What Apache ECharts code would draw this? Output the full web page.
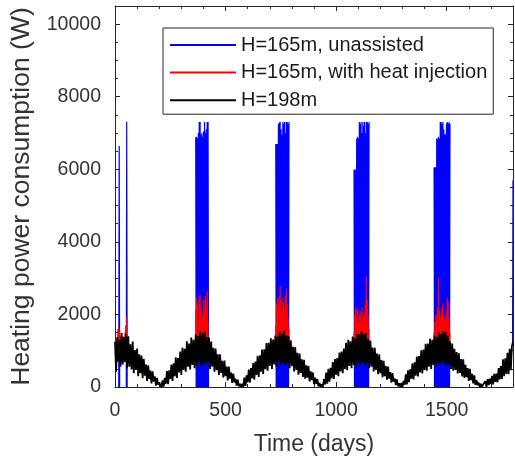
<!DOCTYPE html>
<html>
<head>
<meta charset="utf-8">
<script src="https://cdn.jsdelivr.net/npm/echarts@6/dist/echarts.min.js"></script>
<style>
html,body{margin:0;padding:0;background:#fff;}
#chart{width:515px;height:462px;}
</style>
</head>
<body>
<div id="chart"></div>
<script>
// ---------- DATA ----------
const xTicksMajor = [0, 500, 1000, 1500];
const yTicksMajor = [0, 2000, 4000, 6000, 8000, 10000];
const seriesNames = ['H=165m, unassisted', 'H=165m, with heat injection', 'H=198m'];

// H=198m : sampled every 5 days from day 0 to day 1800
const blackStartDay = 0;
const blackStepDays = 5;
const blackW = [
1250,420,1380,700,1300,560,1490,620,1380,680,1450,520,1400,560,1180,480,1250,380,1020,470,1060,300,900,380,870,240,780,310,620,170,600,220,450,100,430,150,290,40,250,60,130,
60,0,180,10,250,90,440,80,460,220,620,170,650,300,820,250,800,400,980,330,1080,470,1050,420,1260,560,1200,480,1360,610,1300,520,1450,580,1400,700,1530,560,1480,640,1520,590,1380,680,1360,500,1250,560,1080,420,1060,460,900,330,900,390,720,260,730,300,560,180,560,230,400,110,370,130,230,40,200,20,90,0,
90,0,260,30,320,130,480,120,520,240,660,200,700,330,860,280,870,420,1030,360,1040,490,1210,450,1220,580,1340,500,1310,620,1420,550,1390,680,1520,600,1470,660,1540,590,1420,650,1400,520,1290,570,1110,430,1100,470,940,340,920,390,760,280,750,230,600,260,580,150,430,190,400,80,260,90,220,20,110,0,70,
0,220,70,400,90,500,150,530,240,690,220,770,340,800,300,950,430,980,380,1060,500,1220,460,1300,580,1260,520,1390,610,1350,540,1460,680,1450,600,1540,690,1470,580,1490,650,1320,520,1280,560,1090,430,1080,470,920,350,900,380,740,270,720,300,580,200,560,230,410,120,380,150,240,50,210,20,100,
0,110,0,170,60,350,70,460,130,490,230,650,210,680,310,840,290,850,400,1010,370,1030,470,1190,450,1200,560,1330,500,1300,610,1410,560,1380,660,1500,600,1460,690,1540,620,1510,580,1420,620,1260,500,1200,450,1050,470,960,370,930,390,770,290,760,250,610,270,520,170,500,190,360,100,320,60,190,50,120,0,90,
0,70,20,160,0,220,50,230,80,310,70,360,140,370,130,520,210,580,220,760,300,790,360,940,350,1050,460,1120,1250
];

// H=165m unassisted : heating-season bursts, sampled every 2 days
const blueStepDays = 2;
const blueStarts = [17, 51, 365, 727, 1081, 1443, 1798];
const blueS1a = [0, 6640, 0];
const blueS1b = [0, 7310, 0];
const blueS2 = [6880,0,6900,0,6850,0,7000,0,7300,0,7300,0,6950,0,7000,0,6900,0,7050,0,7300,0,7000,0,7100,0,7300,0,7300,0];
const blueS3 = [6700,0,6700,0,6700,0,7250,0,7290,0,7300,0,7100,0,6950,0,7300,0,7250,0,7300,0,7000,0,7300,0,7300,0,7250,0,7300];
const blueS4 = [5980,0,6000,0,5980,0,6850,0,6900,0,6850,0,7300,0,7250,0,7300,0,7000,0,7300,0,7200,0,7300,0,7000,0,7300,0,7300,0,7250,0,7300];
const blueS5 = [6050,0,6060,0,6050,0,6850,0,6840,0,6900,0,6850,0,7300,0,7300,0,7250,0,7300,0,7100,0,6970,0,6950,0,7260,0,7300,0,7260,0,7300,0,7250];
const blueS6 = [1200, 5700];
const blueSeasons = [blueS1a, blueS1b, blueS2, blueS3, blueS4, blueS5, blueS6];

// H=165m with heat injection : heating-season bursts, sampled every 2 days
const redStepDays = 2;
const redStarts = [9, 365, 727, 1081, 1443];
const redS1 = [1300,700,1600,900,1650,800,1550,900,1400,800,1300,700,1350,800,1400,700,1300,800,1500,900,1700,1000,1950,900,1400];
const redS2 = [2100,900,2450,1000,2300,800,1800,1100,2500,900,2550,1000,2200,1200,2000,900,1900,1000,2400,800,2100,1100,2500,900,2200,1000,2650,900,1800];
const redS3 = [1700,900,2300,1000,2450,1100,2200,900,2500,1200,2780,1000,2400,1100,2000,900,2450,1200,2300,1000,2100,1100,2500,900,2700,1000,2300,1100,1900,800,1600];
const redS4 = [1500,800,2000,1000,2200,900,1900,1100,2150,1000,1800,1200,2000,900,2100,1100,1900,1000,2200,1200,1800,900,2050,1100,1900,1000,2300,1200,3050,1000,2400,1100,2000,900,1600];
const redS5 = [1500,800,1800,1000,2000,1100,1900,900,2200,1000,3030,1100,2100,1200,1900,1000,2000,1100,2200,900,2300,1200,2000,1000,1850,1100,1900,900,2100,1200,2450,1000,2350,1100,1900,900,1500];
const redSeasons = [redS1, redS2, redS3, redS4, redS5];

// ---------- BUILD ----------
function regular(start, step, vals) {
  return vals.map((v, i) => [start + i * step, v]);
}
function bursts(starts, step, arrays) {
  const out = [];
  arrays.forEach((arr, k) => {
    arr.forEach((v, i) => out.push([starts[k] + i * step, v]));
    out.push([starts[k] + arr.length * step, null]);
  });
  return out;
}

const FONT = 'Liberation Sans, Arial, Helvetica, sans-serif';
const AX = '#262626';
const plain = v => String(v);

const chart = echarts.init(document.getElementById('chart'), null, {renderer: 'canvas'});

function xAx(position, interval, len, showLine, showLabel, extra) {
  return Object.assign({
    type: 'value', position: position, min: 0, max: 1800, interval: interval,
    axisLine: {show: showLine, onZero: false, lineStyle: {color: AX, width: 1}},
    axisTick: {show: true, inside: true, length: len, lineStyle: {color: AX, width: 1}},
    axisLabel: {show: showLabel, showMaxLabel: false, margin: 14, fontSize: 19.5, fontFamily: FONT, color: '#333', formatter: plain},
    splitLine: {show: false}
  }, extra || {});
}
function yAx(position, interval, len, showLine, showLabel, extra) {
  return Object.assign({
    type: 'value', position: position, min: 0, max: 10500, interval: interval,
    axisLine: {show: showLine, onZero: false, lineStyle: {color: AX, width: 1}},
    axisTick: {show: true, inside: true, length: len, lineStyle: {color: AX, width: 1}},
    axisLabel: {show: showLabel, showMaxLabel: false, margin: 14, fontSize: 19.5, fontFamily: FONT, color: '#333', formatter: plain},
    splitLine: {show: false}
  }, extra || {});
}

const option = {
  animation: false,
  backgroundColor: '#fff',
  grid: {left: 115, right: 2, top: 6, bottom: 75, containLabel: false, outerBoundsMode: 'none'},
  legend: {
    orient: 'vertical', left: 163, top: 28,
    padding: [7, 6, 4, 7],
    itemGap: 7.6, itemWidth: 66, itemHeight: 2, icon: 'rect',
    borderColor: AX, borderWidth: 1, backgroundColor: '#fff',
    textStyle: {fontSize: 20, fontFamily: FONT, color: '#1a1a1a', lineHeight: 20},
    data: seriesNames
  },
  xAxis: [
    xAx('bottom', 500, 5, true, true, {
      name: 'Time (days)', nameLocation: 'middle', nameGap: 46,
      nameTextStyle: {fontSize: 23, fontFamily: FONT, color: '#333'}
    }),
    xAx('bottom', 100, 3, false, false),
    xAx('top', 500, 5, true, false),
    xAx('top', 100, 3, false, false)
  ],
  yAxis: [
    yAx('left', 2000, 5, true, true, {
      name: 'Heating power consumption (W)', nameLocation: 'middle', nameGap: 80,
      nameTextStyle: {fontSize: 26.5, fontFamily: FONT, color: '#333'}
    }),
    yAx('left', 500, 3, false, false),
    yAx('right', 2000, 5, true, false),
    yAx('right', 500, 3, false, false)
  ],
  series: [
    {
      name: seriesNames[0], type: 'line', xAxisIndex: 0, yAxisIndex: 0,
      symbol: 'none', showSymbol: false, connectNulls: false,
      lineStyle: {color: '#0000ff', width: 1.2}, itemStyle: {color: '#0000ff'},
      data: bursts(blueStarts, blueStepDays, blueSeasons)
    },
    {
      name: seriesNames[1], type: 'line', xAxisIndex: 0, yAxisIndex: 0,
      symbol: 'none', showSymbol: false, connectNulls: false,
      lineStyle: {color: '#ff0000', width: 1.2}, itemStyle: {color: '#ff0000'},
      data: bursts(redStarts, redStepDays, redSeasons)
    },
    {
      name: seriesNames[2], type: 'line', xAxisIndex: 0, yAxisIndex: 0,
      symbol: 'none', showSymbol: false,
      lineStyle: {color: '#000000', width: 1.8}, itemStyle: {color: '#000000'},
      data: regular(blackStartDay, blackStepDays, blackW)
    }
  ]
};
chart.setOption(option);
</script>
</body>
</html>
